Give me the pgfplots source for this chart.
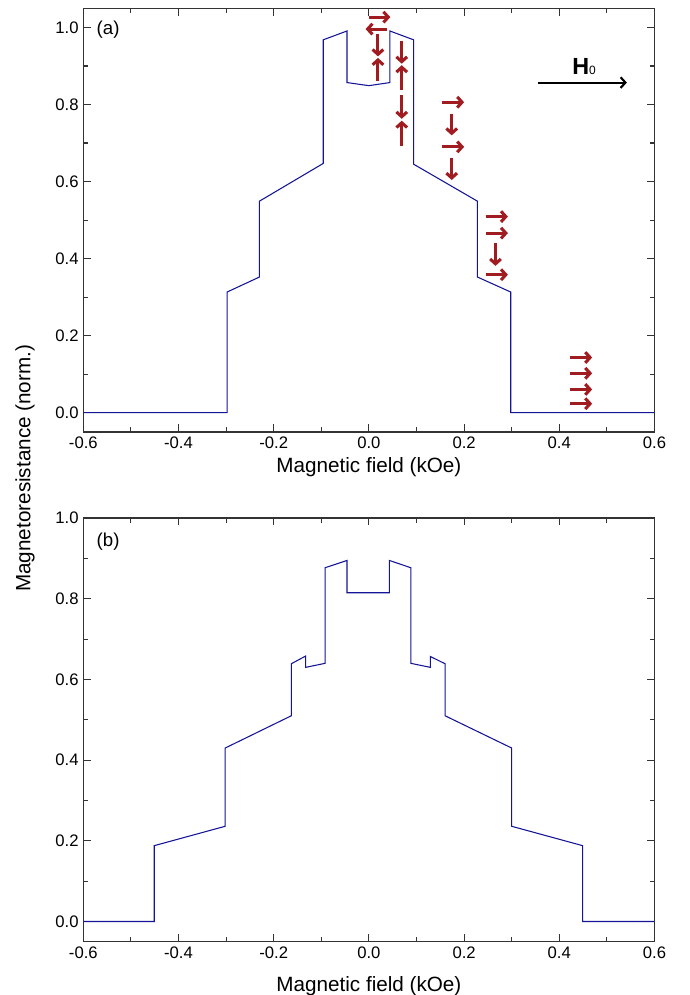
\documentclass[border=0pt]{standalone}
\usepackage{fontspec}
\setmainfont{Liberation Sans}
\usepackage{pgfplots}
\pgfplotsset{compat=1.18}
\usetikzlibrary{arrows.meta,calc}

\definecolor{curve}{RGB}{20,20,150}
\definecolor{spin}{RGB}{160,28,32}

\pgfplotsset{
  mrpanel/.style={
    width=428.25pt, height=317.6pt, scale only axis,
    xmin=-0.6, xmax=0.6,
    xtick={-0.6,-0.4,-0.2,0,0.2,0.4,0.6},
    minor x tick num=1, minor y tick num=1,
    tick align=inside,
    major tick length=5.5pt, minor tick length=3.5pt,
    axis line style={line width=1.1pt, black!80},
    every tick/.style={black!80, line width=0.8pt},
    tick label style={font=\fontsize{12.5}{14}\selectfont},
    label style={font=\fontsize{15.5}{18}\selectfont},
    /pgf/number format/.cd, fixed, fixed zerofill, precision=1, assume math mode=true,
    /pgfplots/.cd,
    xlabel={Magnetic field (kOe)},
  },
  spinarrow/.style={spin, line width=2.3pt, -{Straight Barb[length=3.6pt,width=8pt]},
    quiver={u=\thisrow{u}, v=\thisrow{v}}},
}

\pgfplotstableread{
x y
-0.6 0
-0.298 0
-0.298 0.313
-0.23 0.352
-0.23 0.549
-0.096 0.647
-0.096 0.968
-0.046 0.991
-0.046 0.857
0 0.849
0.044 0.857
0.044 0.991
0.094 0.968
0.094 0.645
0.228 0.549
0.228 0.352
0.298 0.313
0.298 0
0.6 0
}\curvea

\pgfplotstableread{
x y
-0.6 0
-0.451 0
-0.451 0.188
-0.302 0.236
-0.302 0.43
-0.163 0.51
-0.163 0.639
-0.133 0.658
-0.133 0.630
-0.092 0.640
-0.092 0.877
-0.046 0.895
-0.046 0.815
0.043 0.815
0.043 0.895
0.088 0.877
0.088 0.640
0.129 0.630
0.129 0.657
0.160 0.639
0.160 0.51
0.300 0.43
0.300 0.236
0.449 0.188
0.449 0
0.6 0
}\curveb

\pgfplotstableread{
x y u v
0.000 1.027 0.045 0
0.039 0.996 -0.046 0
0.019 0.984 0 -0.059
0.019 0.860 0 0.061
0.069 0.966 0 -0.060
0.069 0.837 0 0.065
0.069 0.824 0 -0.061
0.069 0.692 0 0.066
0.153 0.806 0.047 0
0.174 0.776 0 -0.056
0.153 0.690 0.047 0
0.174 0.660 0 -0.056
0.245 0.509 0.047 0
0.245 0.466 0.047 0
0.266 0.440 0 -0.059
0.245 0.358 0.047 0
0.422 0.143 0.047 0
0.422 0.102 0.047 0
0.422 0.060 0.047 0
0.422 0.023 0.047 0
}\spins

\pgfplotstableread{
x y u v
0.355 0.857 0.187 0
}\field

\begin{document}
\begin{tikzpicture}
\begin{axis}[mrpanel, name=top,
    ymin=-0.05, ymax=1.05,
    ytick={0,0.2,0.4,0.6,0.8,1.0}]
  \addplot[curve, line width=0.8pt] table[x=x,y=y] {\curvea};
  \addplot[spinarrow] table[x=x,y=y] {\spins};
  \addplot[black, line width=1.6pt, -{Straight Barb[length=3.6pt,width=8pt]},
    quiver={u=\thisrow{u}, v=\thisrow{v}}] table[x=x,y=y] {\field};
  \node[font=\fontsize{14}{16}\selectfont] at (axis cs:-0.548,0.995) {(a)};
  \node[anchor=base, font=\fontsize{17.5}{20}\selectfont]
    at (axis cs:0.452,0.877) {{\bfseries H}{\fontsize{9}{10}\selectfont 0}};
\end{axis}
\begin{axis}[mrpanel, name=bot,
    at={($(top.south west)+(0,-64.7pt)$)}, anchor=north west,
    ymin=-0.05, ymax=1.0,
    ytick={0,0.2,0.4,0.6,0.8,1.0},
    xlabel style={yshift=-7pt}]
  \addplot[curve, line width=0.8pt] table[x=x,y=y] {\curveb};
  \node[font=\fontsize{14}{16}\selectfont] at (axis cs:-0.548,0.941) {(b)};
\end{axis}
\node[rotate=90, font=\fontsize{15.5}{18}\selectfont]
  at ($($(top.south west)!0.5!(bot.north west)$)+(-43.7pt,5pt)$) {Magnetoresistance (norm.)};
\pgfresetboundingbox
\path[use as bounding box] ($(top.north west)+(-62.5pt,6.2pt)$) rectangle ($(bot.south east)+(26pt,-40pt)$);
\end{tikzpicture}
\end{document}
